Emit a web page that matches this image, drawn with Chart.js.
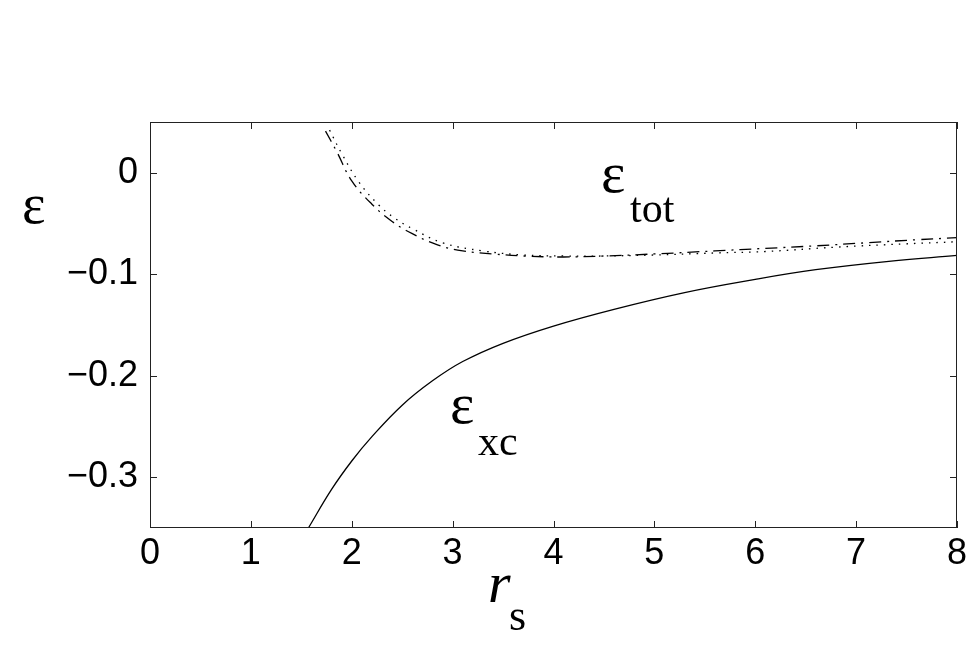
<!DOCTYPE html>
<html>
<head>
<meta charset="utf-8">
<script src="https://cdn.jsdelivr.net/npm/chart.js@4"></script>
<style>
  html, body { margin: 0; padding: 0; background: #fff; }
  canvas { display: block; }
</style>
</head>
<body>
<canvas id="chart" width="977" height="658"></canvas>
<script>
// tick labels
const xTicks = [0, 1, 2, 3, 4, 5, 6, 7, 8];
const yTicks = [0, -0.1, -0.2, -0.3];

// eps_xc (solid)
const rsXc  = [1.57, 1.8, 2.0, 2.2, 2.5, 2.8, 3.1, 3.5, 4.0, 4.6, 5.3, 6.0, 6.6, 7.3, 8.0];
const epsXc = [-0.350, -0.312, -0.284, -0.260, -0.229, -0.205, -0.186, -0.168, -0.151, -0.1345, -0.118, -0.105, -0.0955, -0.0875, -0.0815];

// eps_tot (dash-dot)
const rsTotA  = [1.74, 1.85, 2.0, 2.2, 2.4, 2.6, 2.85, 3.1, 3.4, 3.7, 4.1, 4.5, 5.0, 5.6, 6.1, 6.6, 7.1, 7.6, 8.0];
const epsTotA = [0.041, 0.021, -0.008, -0.031, -0.048, -0.060, -0.071, -0.077, -0.080, -0.082, -0.083, -0.082, -0.080, -0.077, -0.0745, -0.072, -0.069, -0.066, -0.064];

// eps_tot (dotted)
const rsTotB  = [1.78, 1.9, 2.07, 2.27, 2.43, 2.61, 2.9, 3.3, 3.7, 4.1, 4.5, 5.0, 5.6, 6.1, 6.8, 7.5, 8.0];
const epsTotB = [0.042, 0.019, -0.009, -0.032, -0.045, -0.0555, -0.069, -0.077, -0.081, -0.082, -0.082, -0.081, -0.079, -0.0776, -0.0733, -0.070, -0.068];

const toPts = (xs, ys) => xs.map((x, i) => ({ x: x, y: ys[i] }));

const tickFont = { family: '"Liberation Sans", Helvetica, Arial, sans-serif', size: 36 };

// box, inward ticks on all sides, and the text labels
const framePlugin = {
  id: 'frame',
  afterDraw(chart) {
    const ctx = chart.ctx;
    const a = chart.chartArea;
    const xs = chart.scales.x, ys = chart.scales.y;
    const len = 7;
    ctx.save();
    ctx.strokeStyle = '#222';
    ctx.lineWidth = 1;
    ctx.strokeRect(a.left + 0.5, a.top + 0.5, a.right - a.left - 1, a.bottom - a.top - 1);
    ctx.beginPath();
    xTicks.forEach(v => {
      const px = Math.round(xs.getPixelForValue(v)) + 0.5;
      ctx.moveTo(px, a.bottom); ctx.lineTo(px, a.bottom - len);
      ctx.moveTo(px, a.top); ctx.lineTo(px, a.top + len);
    });
    yTicks.forEach(v => {
      const py = Math.round(ys.getPixelForValue(v)) + 0.5;
      ctx.moveTo(a.left, py); ctx.lineTo(a.left + len, py);
      ctx.moveTo(a.right, py); ctx.lineTo(a.right - len, py);
    });
    ctx.stroke();

    ctx.fillStyle = '#000';
    ctx.textBaseline = 'alphabetic';
    ctx.textAlign = 'left';
    const serif = '"Liberation Serif", "Times New Roman", serif';
    // y label
    ctx.font = '56px ' + serif;
    ctx.fillText('ε', 22, 223);
    // x label r_s
    ctx.font = 'italic 58px ' + serif;
    ctx.fillText('r', 488, 602);
    ctx.font = '44px ' + serif;
    ctx.fillText('s', 509, 630);
    // eps_tot
    ctx.font = '58px ' + serif;
    ctx.fillText('ε', 601, 192);
    ctx.font = '42px ' + serif;
    ctx.fillText('tot', 630, 222);
    // eps_xc
    ctx.font = '58px ' + serif;
    ctx.fillText('ε', 450, 423);
    ctx.font = '42px ' + serif;
    ctx.fillText('xc', 478, 455);
    ctx.restore();
  }
};

new Chart(document.getElementById('chart'), {
  type: 'line',
  data: {
    datasets: [
      {
        data: toPts(rsXc, epsXc),
        borderColor: '#000',
        borderWidth: 1.3,
        pointRadius: 0,
        tension: 0.4
      },
      {
        data: toPts(rsTotA, epsTotA),
        borderColor: '#000',
        borderWidth: 1.3,
        borderDash: [12, 6, 2, 6],
        pointRadius: 0,
        tension: 0.4
      },
      {
        data: toPts(rsTotB, epsTotB),
        borderColor: '#000',
        borderWidth: 1.3,
        borderDash: [1.5, 6],
        pointRadius: 0,
        tension: 0.4
      }
    ]
  },
  options: {
    responsive: false,
    animation: false,
    layout: { padding: { left: 0, right: 20, top: 122, bottom: 0 } },
    plugins: { legend: { display: false }, tooltip: { enabled: false } },
    scales: {
      x: {
        type: 'linear',
        min: 0,
        max: 8,
        afterBuildTicks: s => { s.ticks = xTicks.map(v => ({ value: v })); },
        afterFit: s => { s.height = 130; },
        grid: { display: false, drawTicks: false },
        border: { display: false },
        ticks: { color: '#000', font: tickFont, padding: 4, maxRotation: 0 }
      },
      y: {
        type: 'linear',
        min: -0.35,
        max: 0.05,
        afterBuildTicks: s => { s.ticks = yTicks.map(v => ({ value: v })); },
        afterFit: s => { s.width = 150; },
        grid: { display: false, drawTicks: false },
        border: { display: false },
        ticks: {
          color: '#000',
          font: tickFont,
          padding: 12,
          callback: v => v === 0 ? '0' : '\u2212' + Math.abs(v).toFixed(1)
        }
      }
    }
  },
  plugins: [framePlugin]
});
</script>
</body>
</html>
